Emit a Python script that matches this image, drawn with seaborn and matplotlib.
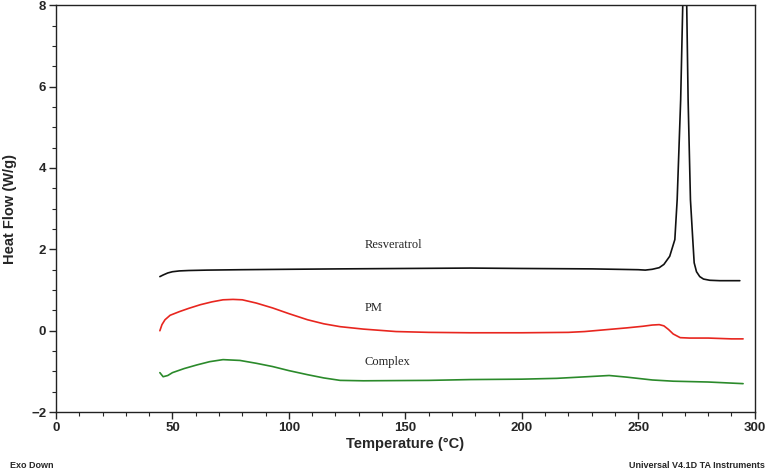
"""DSC thermograms: Resveratrol, physical mixture (PM) and inclusion complex."""
import numpy as np
import pandas as pd
import matplotlib
matplotlib.use("Agg")
import matplotlib.pyplot as plt
from matplotlib.ticker import MultipleLocator
import seaborn as sns

# --- data (temperature in degC, heat flow in W/g) ---
res_t = [44.6, 46, 48, 50, 53, 57, 65, 80, 100, 122, 150, 178, 200, 230, 250,
         253, 256, 259, 261, 263.5, 265.7, 266.7, 268.2, 269.1, 270, 270.8,
         271.4, 272.4, 273.4, 274, 275, 276.4, 278, 280.7, 285, 293.6]
res_hf = [1.33, 1.37, 1.42, 1.45, 1.47, 1.48, 1.49, 1.50, 1.51, 1.52, 1.53,
          1.54, 1.53, 1.52, 1.50, 1.49, 1.51, 1.55, 1.63, 1.83, 2.24, 3.22,
          5.67, 8.0, 9.0, 8.0, 5.67, 3.22, 2.24, 1.67, 1.45, 1.33, 1.27, 1.24,
          1.23, 1.23]

pm_t = [44.6, 45.5, 46.8, 49, 53, 57, 62, 67, 71.7, 76, 80, 86, 93, 100, 108,
        115, 122, 132, 146, 160, 178, 200, 220, 227, 235, 245, 252, 256, 259,
        261, 263, 265, 268, 272, 280, 290, 295]
pm_hf = [0.0, 0.15, 0.27, 0.38, 0.47, 0.55, 0.64, 0.71, 0.76, 0.77, 0.76, 0.68,
         0.56, 0.42, 0.27, 0.17, 0.10, 0.04, -0.02, -0.04, -0.05, -0.05, -0.04,
         -0.02, 0.02, 0.07, 0.11, 0.14, 0.15, 0.12, 0.03, -0.08, -0.17, -0.18,
         -0.18, -0.20, -0.20]

cx_t = [44.6, 46, 48, 50, 55, 60.5, 66, 71.7, 79, 86, 93, 100, 108, 115, 122,
        132, 160, 178, 200, 215, 228, 237.5, 245, 256, 265, 280, 295]
cx_hf = [-1.03, -1.13, -1.10, -1.03, -0.93, -0.84, -0.76, -0.71, -0.73, -0.80,
         -0.88, -0.98, -1.08, -1.16, -1.22, -1.23, -1.22, -1.20, -1.19, -1.17,
         -1.13, -1.10, -1.14, -1.21, -1.24, -1.26, -1.30]

labels = ["Resveratrol", "PM", "Complex"]
label_pos = [(132.6, 2.1), (132.6, 0.56), (132.6, -0.76)]
colors = ["#111111", "#e8261f", "#2b8a2b"]

sns.set_style("ticks")
plt.rcParams["font.family"] = ["Liberation Sans", "DejaVu Sans"]

fig, ax = plt.subplots(figsize=(7.67, 4.71), dpi=100)
fig.subplots_adjust(left=0.073, right=0.984, top=0.989, bottom=0.125)

for t, hf, c in zip([res_t, pm_t, cx_t], [res_hf, pm_hf, cx_hf], colors):
    sns.lineplot(x=t, y=hf, ax=ax, color=c, lw=1.2, sort=False, estimator=None)

for lab, (x, y) in zip(labels, label_pos):
    ax.text(x, y, lab, ha="left", va="center", fontsize=9,
            family=["Liberation Serif", "DejaVu Serif"])

ax.set_xlim(0, 300)
ax.set_ylim(-2, 8)
ax.xaxis.set_major_locator(MultipleLocator(50))
ax.xaxis.set_minor_locator(MultipleLocator(10))
ax.yaxis.set_major_locator(MultipleLocator(2))
ax.yaxis.set_minor_locator(MultipleLocator(0.5))
ax.tick_params(which="major", direction="out", length=5, width=1,
               labelsize=9.5, pad=2)
ax.tick_params(which="minor", direction="out", length=3, width=0.8)
for lab in ax.get_xticklabels() + ax.get_yticklabels():
    lab.set_fontweight("bold")
for sp in ax.spines.values():
    sp.set_visible(True)
    sp.set_linewidth(1.0)
    sp.set_color("#222222")

ax.set_xlabel("Temperature (°C)", fontsize=10.5, fontweight="bold", labelpad=2)
ax.set_ylabel("Heat Flow (W/g)", fontsize=10.5, fontweight="bold", labelpad=10)

fig.text(0.013, 0.003, "Exo Down", fontsize=6.5, fontweight="bold",
         ha="left", va="bottom")
fig.text(0.997, 0.003, "Universal V4.1D TA Instruments", fontsize=6.5,
         fontweight="bold", ha="right", va="bottom")

fig.savefig("out.png", dpi=100)
